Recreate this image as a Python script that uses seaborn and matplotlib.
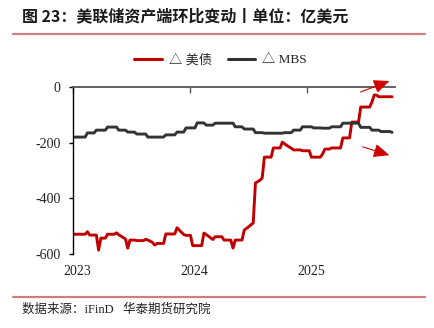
import numpy as np
import pandas as pd
import matplotlib
matplotlib.use("Agg")
import matplotlib.pyplot as plt
import matplotlib.transforms as mtransforms
from matplotlib.lines import Line2D
import seaborn as sns

# ---------------- data (weekly) ----------------
start_date = "2023-01-04"
n_weeks = 143

treasury = ([-529]*6 + [-520] + [-532]*4 + [-586] + [-543]*3 + [-529]*4 +
            [-524, -531, -536, -541, -546] + [-579] + [-550]*3 + [-552]*4 +
            [-547, -550, -554, -558, -568] + [-562]*4 + [-528]*5 +
            [-506, -514, -522, -530] + [-533]*3 + [-570]*5 +
            [-525, -530, -536, -542, -548] + [-538]*4 + [-550]*4 + [-579] +
            [-550]*4 + [-514, -508, -502, -495, -489] + [-345, -340, -335, -327] +
            [-252]*4 + [-219]*4 + [-198, -204, -210, -215, -220] + [-226]*4 +
            [-229]*4 + [-252]*5 + [-240] + [-223]*3 + [-219]*5 + [-183]*4 +
            [-126]*4 + [-72]*5 + [-54] + [-29]*2 + [-35]*7)

mbs = ([-180]*6 + [-165]*4 + [-155]*5 + [-144]*5 + [-155]*4 + [-162]*4 +
       [-169]*5 + [-180]*4 + [-180]*4 + [-172]*5 + [-162]*4 + [-147]*5 +
       [-129]*4 + [-137]*4 + [-130]*4 + [-130]*5 + [-143]*4 + [-151]*5 +
       [-164]*4 + [-166]*5 + [-166]*4 + [-164]*4 + [-155]*4 + [-143]*5 +
       [-147]*4 + [-148]*4 + [-143]*5 + [-130]*4 + [-130]*4 + [-145]*5 +
       [-155]*4 + [-160]*5 + [-163])

series_names = ["△ 美债", "△ MBS"]
series_colors = ["#c00000", "#333333"]
year_ticks = ["2023-01-01", "2024-01-01", "2025-01-01"]
year_labels = ["2023", "2024", "2025"]
y_ticks = [0, -200, -400, -600]

title_text = "图 23：美联储资产端环比变动丨单位：亿美元"
source_text = "数据来源：iFinD   华泰期货研究院"

# ---------------- build frame ----------------
dates = pd.date_range(start_date, periods=n_weeks, freq="W-WED")
df = pd.DataFrame({
    "date": np.concatenate([dates, dates]),
    "value": treasury + mbs,
    "series": [series_names[0]]*n_weeks + [series_names[1]]*n_weeks,
})

sns.set_theme(style="white")
plt.rcParams["font.family"] = ["Liberation Serif", "Noto Sans CJK SC", "DejaVu Sans"]

fig = plt.figure(figsize=(4.35, 3.28), dpi=100)
ax = fig.add_axes([73/435, 1-254/328, (395-73)/435, (254-87)/328])

sns.lineplot(data=df, x="date", y="value", hue="series",
             palette=dict(zip(series_names, series_colors)),
             linewidth=2.1, ax=ax, legend=False)

ax.set_xlim(pd.Timestamp("2023-01-01"), pd.Timestamp("2025-10-03"))
ax.set_ylim(-600, 0)
ax.set_xlabel("")
ax.set_ylabel("")

ax.set_yticks(y_ticks)
ax.set_yticklabels([str(v) for v in y_ticks], fontsize=10)
ax.set_xticks([pd.Timestamp(d) for d in year_ticks])
ax.set_xticklabels(year_labels, fontsize=10)

for s in ["right", "bottom"]:
    ax.spines[s].set_visible(False)
ax.spines["left"].set_color("black")
ax.spines["left"].set_linewidth(1.0)
ax.spines["top"].set_color("#555555")
ax.spines["top"].set_linewidth(1.3)

ax.tick_params(axis="x", which="both", bottom=False, top=True, labelbottom=True,
               labeltop=False, direction="in", length=4, width=1, color="#555555",
               pad=8, labelcolor="#222222")
ax.tick_params(axis="y", left=True, direction="out", length=3, width=1,
               color="black", pad=6, labelcolor="#222222")
offset = mtransforms.ScaledTranslation(4/100, 0, fig.dpi_scale_trans)
for lbl in ax.get_xticklabels():
    lbl.set_transform(lbl.get_transform() + offset)

# legend
handles = [Line2D([0], [0], color=c, lw=2.2) for c in series_colors]
fig.legend(handles, series_names, loc="center", bbox_to_anchor=(0.507, 1-60/328),
           ncol=2, frameon=False, fontsize=9.5, handlelength=2.1,
           columnspacing=1.2, handletextpad=0.5)

# arrows
ax.annotate("", xy=(392, 328-80), xycoords="figure pixels",
            xytext=(358, 328-93), textcoords="figure pixels",
            arrowprops=dict(arrowstyle="-|>,head_length=0.8,head_width=0.35",
                            color="#d00000", lw=0.8))
ax.annotate("", xy=(392, 328-156), xycoords="figure pixels",
            xytext=(360, 328-146), textcoords="figure pixels",
            arrowprops=dict(arrowstyle="-|>,head_length=0.8,head_width=0.35",
                            color="#d00000", lw=0.8))

# title, rules, source
fig.text(22/435, 1-16/328, title_text, fontsize=11.5, fontweight="bold",
         va="center", ha="left", color="#1a1a1a",
         family=["Noto Sans CJK SC", "DejaVu Sans"])
fig.add_artist(Line2D([13/435, 425/435], [1-34/328, 1-34/328],
                      transform=fig.transFigure, color="#cc7f7f", lw=1.6))
fig.add_artist(Line2D([13/435, 425/435], [1-297/328, 1-297/328],
                      transform=fig.transFigure, color="#cc7f7f", lw=1.6))
fig.text(22/435, 1-310/328, source_text, fontsize=9, va="center", ha="left",
         color="#222222")

fig.savefig("out.png", dpi=100)
